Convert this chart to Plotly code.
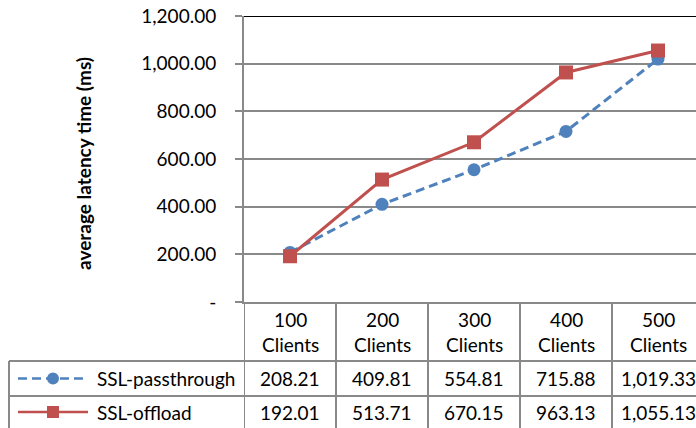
import plotly.graph_objects as go

# ---- data ----
clients = [100, 200, 300, 400, 500]
cat_labels = ["100<br>Clients", "200<br>Clients", "300<br>Clients", "400<br>Clients", "500<br>Clients"]
passthrough = [208.21, 409.81, 554.81, 715.88, 1019.33]
offload = [192.01, 513.71, 670.15, 963.13, 1055.13]
series_names = ["SSL-passthrough", "SSL-offload"]
y_ticks = [0, 200, 400, 600, 800, 1000, 1200]
y_title = "average latency time (ms)"

BLUE = "#4F81BD"
RED = "#C0504D"
GRID = "#898989"
FONT = "Lato"
FS = 19

W, H = 696, 428
L, T, B = 244, 16, 126
PW = W - L
PH = H - T - B
AXIS_Y = H - B  # pixel of y=0


def px_x(p):
    return (p - L) / PW


def px_y(p):
    return (AXIS_Y - p) / PH


def fmt(v):
    return "-" if v == 0 else f"{v:,.2f}"


xs = list(range(len(clients)))
fig = go.Figure()
fig.add_trace(go.Scatter(
    x=xs, y=passthrough, name=series_names[0], mode="lines+markers",
    line=dict(color=BLUE, width=3, dash="9px,5px"),
    marker=dict(symbol="circle", size=13, color=BLUE),
    showlegend=False, cliponaxis=False))
fig.add_trace(go.Scatter(
    x=xs, y=offload, name=series_names[1], mode="lines+markers",
    line=dict(color=RED, width=3),
    marker=dict(symbol="square", size=14, color=RED),
    showlegend=False, cliponaxis=False))

col_w = 92.0
x_hi = -0.5 + PW / col_w

shapes = []
annotations = []
line_style = dict(color=GRID, width=2)

# top black line at the maximum
shapes.append(dict(type="line", xref="paper", yref="y", x0=0, x1=1,
                   y0=y_ticks[-1], y1=y_ticks[-1], line=dict(color="black", width=2)))
# table vertical lines (category boundaries)
for i in range(len(clients)):
    shapes.append(dict(type="line", xref="x", yref="paper", x0=i - 0.5, x1=i - 0.5,
                       y0=0, y1=px_y(H + 2), line=line_style))
# legend column left edge
shapes.append(dict(type="line", xref="paper", yref="paper", x0=px_x(9), x1=px_x(9),
                   y0=px_y(361), y1=px_y(H + 2), line=line_style))
# table horizontal lines
for yp in (361, 396):
    shapes.append(dict(type="line", xref="paper", yref="paper", x0=px_x(9), x1=1,
                       y0=px_y(yp), y1=px_y(yp), line=line_style))

# header labels
for i, lab in enumerate(cat_labels):
    annotations.append(dict(x=i, y=px_y(332), xref="x", yref="paper", text=lab,
                            showarrow=False, font=dict(size=FS, color="black", family=FONT),
                            xanchor="center", yanchor="middle"))

rows = [(passthrough, 378.5, BLUE, "9px,5px", "circle"), (offload, 412, RED, "solid", "square")]
for (vals, yc, col, dash, sym), nm in zip(rows, series_names):
    for i, v in enumerate(vals):
        annotations.append(dict(x=i, y=px_y(yc), xref="x", yref="paper", text=fmt(v),
                                showarrow=False, font=dict(size=FS, color="black", family=FONT),
                                xanchor="center", yanchor="middle"))
    # legend key
    shapes.append(dict(type="line", xref="paper", yref="paper", x0=px_x(18), x1=px_x(88),
                       y0=px_y(yc), y1=px_y(yc), line=dict(color=col, width=2.5, dash=dash)))
    shapes.append(dict(type="circle" if sym == "circle" else "rect", xref="paper", yref="paper",
                       xsizemode="pixel", ysizemode="pixel", xanchor=px_x(53), yanchor=px_y(yc),
                       x0=-6, x1=6, y0=-6, y1=6, fillcolor=col, line=dict(color=col, width=0)))
    annotations.append(dict(x=px_x(95), y=px_y(yc), xref="paper", yref="paper", text=nm,
                            showarrow=False, font=dict(size=FS, color="black", family=FONT),
                            xanchor="left", yanchor="middle"))

# y axis title
annotations.append(dict(x=px_x(83), y=px_y(164), xref="paper", yref="paper", text=f"<b>{y_title}</b>",
                        textangle=-90, showarrow=False, font=dict(size=19, color="black", family=FONT),
                        xanchor="center", yanchor="middle"))

fig.update_layout(
    width=W, height=H,
    margin=dict(l=L, r=0, t=T, b=B, pad=0),
    paper_bgcolor="white", plot_bgcolor="white",
    font=dict(family=FONT, size=FS, color="black"),
    xaxis=dict(range=[-0.5, x_hi], showticklabels=False, showgrid=False, zeroline=False,
               showline=True, linecolor=GRID, linewidth=2, ticks="", fixedrange=True),
    yaxis=dict(range=[0, y_ticks[-1]], tickvals=y_ticks, ticktext=[fmt(v) for v in y_ticks],
               showgrid=True, gridcolor=GRID, gridwidth=2, zeroline=False,
               showline=True, linecolor=GRID, linewidth=2,
               ticks="outside", ticklen=7, tickcolor=GRID, tickwidth=2,
               ticklabelstandoff=15, tickfont=dict(size=FS, family=FONT)),
    shapes=shapes, annotations=annotations, showlegend=False,
)

fig.write_html("out.html", config={"displayModeBar": False},
               post_script="document.body.style.margin='0';document.body.style.overflow='hidden';")
